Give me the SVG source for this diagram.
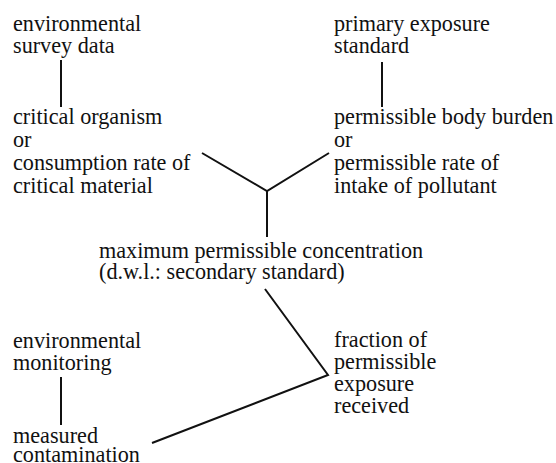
<svg xmlns="http://www.w3.org/2000/svg" width="556" height="463" viewBox="0 0 556 463">
<style>
text{font-family:"Liberation Serif","Times New Roman",serif;font-size:22.2px;fill:#111}
.c line,.c polyline{stroke:#111;stroke-width:2;fill:none}
</style>
<rect width="556" height="463" fill="#fff"/>
<g class="c" id="connectors">
<line x1="61" y1="60" x2="61" y2="107"/>
<line x1="382" y1="62" x2="382" y2="107"/>
<polyline points="202,153 267,191 329,153"/>
<line x1="267" y1="191" x2="267" y2="237"/>
<polyline points="265,289 328,375 152,443"/>
<line x1="61" y1="377" x2="61" y2="425"/>
</g>
<g id="n1"><text x="13" y="31">environmental</text><text x="13" y="53">survey data</text></g>
<g id="n2"><text x="334" y="31">primary exposure</text><text x="334" y="53">standard</text></g>
<g id="n3"><text x="13" y="124">critical organism</text><text x="13" y="147">or</text><text x="13" y="170">consumption rate of</text><text x="13" y="193">critical material</text></g>
<g id="n4"><text x="334" y="124">permissible body burden</text><text x="334" y="147">or</text><text x="334" y="170">permissible rate of</text><text x="334" y="193">intake of pollutant</text></g>
<g id="n5"><text x="99" y="258">maximum permissible concentration</text><text x="99" y="279">(d.w.l.: secondary standard)</text></g>
<g id="n6"><text x="13" y="348">environmental</text><text x="13" y="370">monitoring</text></g>
<g id="n7"><text x="334" y="347">fraction of</text><text x="334" y="369">permissible</text><text x="334" y="391">exposure</text><text x="334" y="413">received</text></g>
<g id="n8"><text x="13" y="443">measured</text><text x="13" y="462">contamination</text></g>
</svg>
